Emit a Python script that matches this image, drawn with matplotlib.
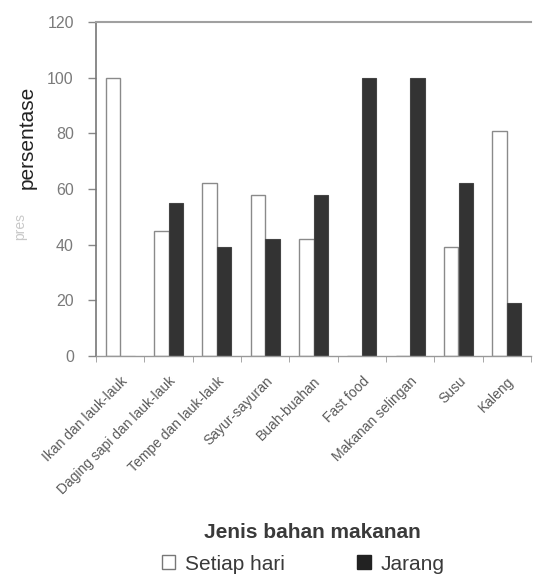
import matplotlib
matplotlib.use("Agg")
import matplotlib.pyplot as plt
from matplotlib.patches import Patch
import numpy as np

plt.rcParams['font.family'] = ['Liberation Sans', 'DejaVu Sans']

categories = ["Ikan dan lauk-lauk", "Daging sapi dan lauk-lauk", "Tempe dan lauk-lauk",
              "Sayur-sayuran", "Buah-buahan", "Fast food", "Makanan selingan", "Susu", "Kaleng"]
setiap_hari = [100, 45, 62, 58, 42, 0, 0, 39, 81]
jarang = [0, 55, 39, 42, 58, 100, 100, 62, 19]
yticks = [0, 20, 40, 60, 80, 100, 120]

fig = plt.figure(figsize=(5.33, 5.74), dpi=100)
ax = fig.add_axes([96/533, 1-356/574, (531-96)/533, (356-22)/574])

x = np.arange(len(categories))
w = 0.3
ax.bar(x - w/2, setiap_hari, w, color='white', edgecolor='#8a8a8a', linewidth=1.0, label='Setiap hari')
ax.bar(x + w/2, jarang, w, color='#333333', edgecolor='#444444', linewidth=0.8, label='Jarang')

ax.set_xlim(-0.5, len(categories) - 0.5)
ax.set_ylim(0, 120)
ax.set_yticks(yticks)
ax.tick_params(axis='y', direction='out', length=6, width=1, color='#888888',
               labelsize=11.5, labelcolor='#7a7a7a', pad=10)

ax.set_xticks(x)
ax.set_xticklabels(categories, rotation=45, ha='right', va='top', rotation_mode='anchor',
                   fontsize=10, color='#5a5a5a')
ax.tick_params(axis='x', which='major', length=0, pad=13)
ax.set_xticks(np.arange(len(categories) + 1) - 0.5, minor=True)
ax.tick_params(axis='x', which='minor', direction='out', length=4, color='#999999')

for s in ['top']:
    ax.spines[s].set_color('#a0a0a0')
    ax.spines[s].set_linewidth(1.5)
ax.spines['right'].set_visible(False)
ax.spines['left'].set_color('#777777')
ax.spines['left'].set_linewidth(1.2)
ax.spines['bottom'].set_color('#999999')
ax.spines['bottom'].set_linewidth(1.0)

fig.text(27/533, 1-137/574, 'persentase', rotation=90, ha='center', va='center',
         fontsize=15, color='#222222')
fig.text(20/533, 1-226/574, 'pres', rotation=90, ha='center', va='center',
         fontsize=10, color='#c8c8c8')
fig.text(312/533, 1-532/574, 'Jenis bahan makanan', ha='center', va='center',
         fontsize=15, fontweight='bold', color='#3a3a3a')

handles = [Patch(facecolor='white', edgecolor='#777777', linewidth=1.0),
           Patch(facecolor='#222222', edgecolor='#222222')]
fig.legend(handles, ['Setiap hari', 'Jarang'], ncol=2, loc='center',
           bbox_to_anchor=(303/533, 1-564/574), frameon=False, fontsize=15,
           handlelength=0.65, handleheight=0.65, handletextpad=0.45, columnspacing=3.5,
           labelcolor='#3a3a3a', borderpad=0)

fig.savefig('out.png', dpi=100)
